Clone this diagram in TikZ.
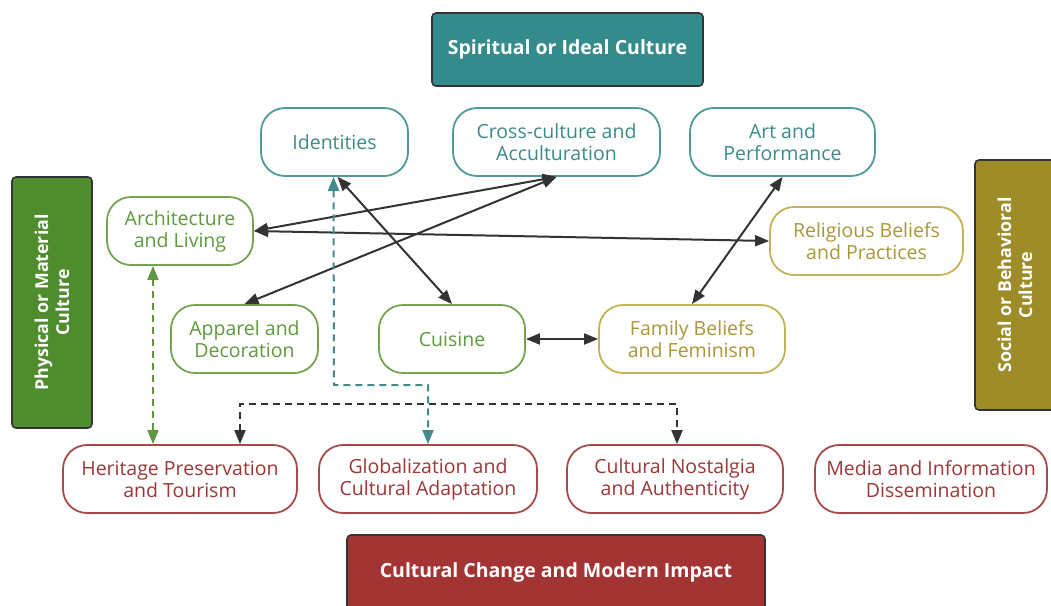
\documentclass[tikz,border=0pt]{standalone}
\usepackage{fontspec}
\setmainfont{Open Sans}
\usepackage{tikz}
\usetikzlibrary{arrows.meta}

\definecolor{tealfill}{HTML}{338B8B}
\definecolor{greenfill}{HTML}{4E8C2E}
\definecolor{olivefill}{HTML}{9E8C28}
\definecolor{redfill}{HTML}{A33434}
\definecolor{tealline}{HTML}{4E9A9A}
\definecolor{tealtext}{HTML}{3C8A8A}
\definecolor{greenline}{HTML}{72A452}
\definecolor{greentext}{HTML}{5E9A3E}
\definecolor{goldline}{HTML}{C4B257}
\definecolor{goldtext}{HTML}{A8983A}
\definecolor{redline}{HTML}{A84A4A}
\definecolor{redtext}{HTML}{9A3838}
\definecolor{darkline}{HTML}{333333}

\tikzset{
    topic/.style={draw, line width=1.8pt, rounded corners=24pt, align=center,
        minimum height=68pt, fill=white, font=\fontsize{19.5}{22}\selectfont},
    spiritual/.style={topic, draw=tealline, text=tealtext},
    material/.style={topic, draw=greenline, text=greentext},
    social/.style={topic, draw=goldline, text=goldtext},
    modern/.style={topic, draw=redline, text=redtext},
    headbox/.style={draw=darkline, line width=1.6pt, rounded corners=4pt, align=center,
        text=white, font=\bfseries\fontsize{19.5}{22}\selectfont},
    sidebox/.style={headbox, rotate=90, minimum height=80pt,
        font=\bfseries\fontsize{17.8}{21}\selectfont},
    link/.style={darkline, line width=2pt,
        {Triangle[length=14pt,width=11pt]}-{Triangle[length=14pt,width=11pt]}},
    dashlink/.style={line width=2pt, dash pattern=on 7pt off 5pt,
        {Triangle[length=14pt,width=11pt]}-{Triangle[length=14pt,width=11pt]}}
}

\begin{document}
\begin{tikzpicture}[x=1pt, y=-1pt]
    \useasboundingbox (0,0) rectangle (1051,605);
    % headings
    \node[headbox, fill=tealfill, minimum width=271pt, minimum height=73pt](spirit) at (567.5,49.5) {Spiritual or Ideal Culture};
    \node[headbox, fill=redfill, minimum width=418pt, minimum height=75pt](change) at (556,572.5) {Cultural Change and Modern Impact};
    \node[sidebox, fill=greenfill, minimum width=251pt](physical) at (52,302.5) {Physical or Material\\Culture};
    \node[sidebox, fill=olivefill, minimum width=250pt](behave) at (1015,285) {Social or Behavioral\\Culture};
    % spiritual topics
    \node[spiritual, minimum width=147pt](ident) at (334.5,142) {Identities};
    \node[spiritual, minimum width=207pt](cross) at (556.5,142) {Cross-culture and\\Acculturation};
    \node[spiritual, minimum width=185pt](art) at (782.5,142) {Art and\\Performance};
    % material topics
    \node[material, minimum width=146pt](arch) at (180,231) {Architecture\\and Living};
    \node[material, minimum width=147pt](apparel) at (244.5,339) {Apparel and\\Decoration};
    \node[material, minimum width=146pt](cuisine) at (452,339) {Cuisine};
    % social topics
    \node[social, minimum width=193pt](relig) at (866.5,241) {Religious Beliefs\\and Practices};
    \node[social, minimum width=186pt](family) at (692,339) {Family Beliefs\\and Feminism};
    % modern topics
    \node[modern, minimum width=234pt](heritage) at (180,479) {Heritage Preservation\\and Tourism};
    \node[modern, minimum width=218pt](glob) at (428,479) {Globalization and\\Cultural Adaptation};
    \node[modern, minimum width=216pt](nostalgia) at (675,479) {Cultural Nostalgia\\and Authenticity};
    \node[modern, minimum width=232pt](media) at (931,479) {Media and Information\\Dissemination};
    % Links
    \path
        (cross.south)
            edge [link] (arch.east)
            edge [link] (apparel.north)
        (arch.east)
            edge [link] (relig.west)
        ([xshift=3pt]ident.south)
            edge [link] (cuisine.north)
        (art.south)
            edge [link] (family.north)
        (cuisine.east)
            edge [link] (family.west)
        ;
    % dashed routes
    \coordinate (turn) at (334,385);
    \coordinate (split) at (430,404);
    \draw[dashlink, greenfill!90!white] ([xshift=-27pt]arch.south) -- ([xshift=-27pt]heritage.north);
    \draw[dashlink, tealline!90!black] ([xshift=-1pt]ident.south) -- (turn) -| (glob.north);
    \draw[dashlink, darkline] ([xshift=60pt]heritage.north) |- (split) -| ([xshift=2pt]nostalgia.north);
\end{tikzpicture}
\end{document}
